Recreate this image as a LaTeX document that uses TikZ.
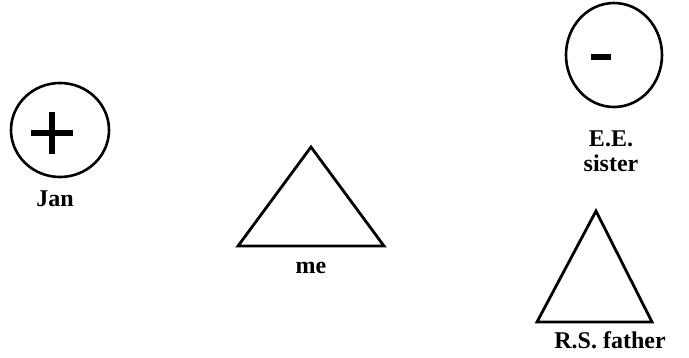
\documentclass[tikz,border=0pt]{standalone}
\usepackage{fontspec}
\setmainfont{Liberation Serif}
\usetikzlibrary{shapes.geometric, calc}
\tikzset{
    person/.style={draw, ellipse, line width=2.6pt, inner sep=0pt},
    tag/.style={font=\bfseries\fontsize{24}{25}\selectfont, align=center},
    body/.style={draw, line width=2.8pt, line join=miter},
    sign/.style={line width=5.5pt},
}

\begin{document}
\begin{tikzpicture}[x=1pt, y=-1pt]
    \useasboundingbox (0,0) rectangle (689,357);
    % Jan
    \node[person, minimum width=98pt, minimum height=94pt] (jan) at (60,130) {};
    \coordinate (plus) at (52,133);
    \draw[sign] ($(plus)+(-21,0)$) -- ($(plus)+(21,0)$);
    \draw[sign] ($(plus)+(0,-21)$) -- ($(plus)+(0,21)$);
    \node[tag] (janlabel) at (55,199) {Jan};
    % E.E. sister
    \node[person, minimum width=96pt, minimum height=104pt] (sister) at (614,55) {};
    \coordinate (minus) at (601,57);
    \draw[sign] ($(minus)+(-10,0)$) -- ($(minus)+(10,0)$);
    \node[tag] (sisterlabel) at (611,151) {E.E.\\sister};
    % me
    \coordinate (me1) at (238,246);
    \coordinate (me2) at (311,147);
    \coordinate (me3) at (384,246);
    \draw[body] (me1) -- (me2) -- (me3) -- cycle;
    \node[tag] (melabel) at (311,268) {me};
    % R.S. father
    \coordinate (rs1) at (537,322);
    \coordinate (rs2) at (596,211);
    \coordinate (rs3) at (652,322);
    \draw[body] (rs1) -- (rs2) -- (rs3) -- cycle;
    \node[tag] (rslabel) at (610,340) {R.S. father};
\end{tikzpicture}
\end{document}
